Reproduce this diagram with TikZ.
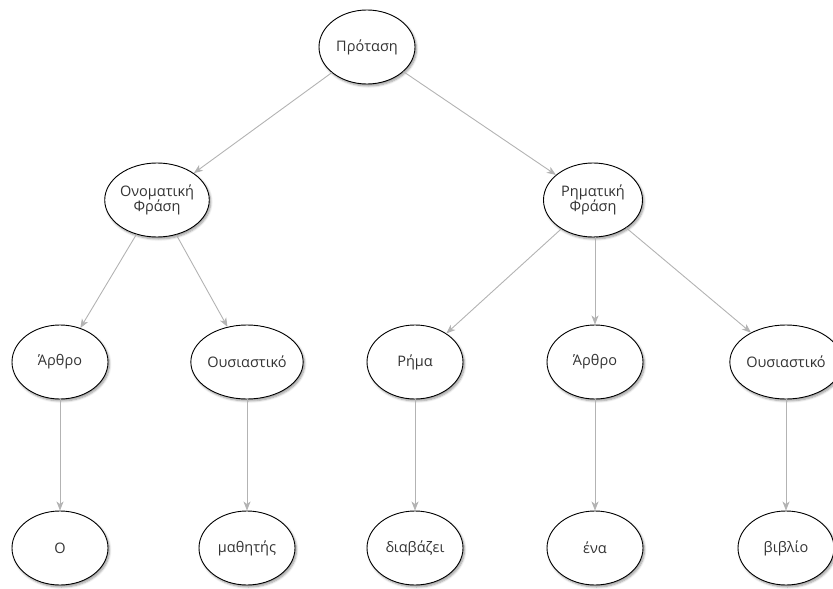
\documentclass[tikz,border=0pt]{standalone}
\usepackage{fontspec}
\setmainfont{Open Sans}
\usetikzlibrary{arrows.meta,shapes.geometric,shadows.blur}
\definecolor{edgegray}{HTML}{B3B3B3}
\definecolor{txtgray}{HTML}{333333}
\begin{document}
\begin{tikzpicture}[x=1pt,y=-1pt,
  word/.style={ellipse, draw=black, line width=0.9pt, fill=white,
    minimum width=96pt, minimum height=74pt, inner sep=0pt,
    text=txtgray, font=\fontsize{14.5}{17}\selectfont, align=center,
    blur shadow={shadow xshift=1.5pt, shadow yshift=-2pt,
      shadow blur steps=6, shadow opacity=40}},
  link/.style={draw=edgegray, line width=0.9pt,
    -{Stealth[length=9pt,width=7pt,inset=2.5pt,fill=edgegray]}}]
\useasboundingbox (0,0) rectangle (833,589);
% sentence root
\node[word] (s) at (367,47) {Πρόταση};
% phrases
\node[word, minimum width=99pt] (np) at (157,200) {Ονοματική\\[-2pt]Φράση};
\node[word, minimum width=99pt] (vp) at (593,200) {Ρηματική\\[-2pt]Φράση};
% parts of speech
\node[word] (art1) at (60,362)  {Άρθρο};
\node[word] (n1)   at (247,362) {Ουσιαστικό};
\node[word] (v)    at (415,362) {Ρήμα};
\node[word] (art2) at (595,362) {Άρθρο};
\node[word] (n2)   at (786,362) {Ουσιαστικό};
% words
\node[word] (w1) at (60,548)  {Ο};
\node[word] (w2) at (247,548) {μαθητής};
\node[word] (w3) at (415,548) {διαβάζει};
\node[word] (w4) at (595,548) {ένα};
\node[word] (w5) at (786,548) {βιβλίο};
% connectors
\draw[link] (s) -- (np);
\draw[link] (s) -- (vp);
\draw[link] (np) -- (art1);
\draw[link] (np) -- (n1);
\draw[link] (vp) -- (v);
\draw[link] (vp.south -| art2) -- (art2);
\draw[link] (vp) -- (n2);
\draw[link] (art1) -- (w1);
\draw[link] (n1) -- (w2);
\draw[link] (v) -- (w3);
\draw[link] (art2) -- (w4);
\draw[link] (n2) -- (w5);
\end{tikzpicture}
\end{document}
